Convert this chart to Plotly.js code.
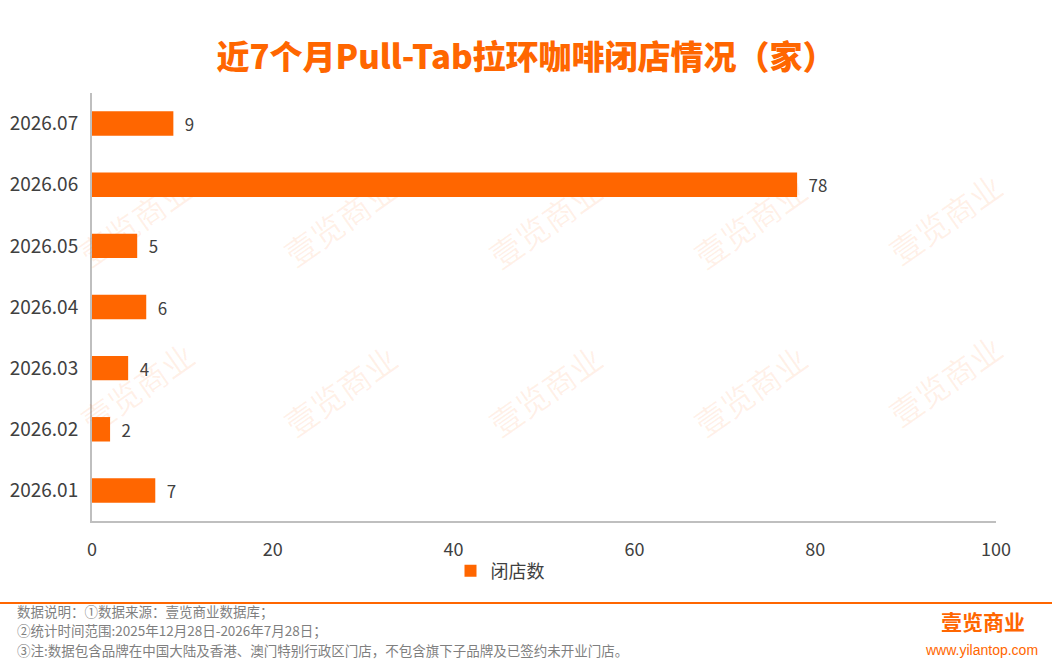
<!DOCTYPE html>
<html><head><meta charset="utf-8">
<script src="https://cdn.plot.ly/plotly-3.0.1.min.js"></script>
<style>html,body{margin:0;padding:0;background:#fff;}#chart{width:1052px;height:665px;}</style>
</head><body><div id="chart"></div>
<script>
const categories = ["2026.01","2026.02","2026.03","2026.04","2026.05","2026.06","2026.07"];
const closedStores = [7,2,4,6,5,78,9];
const seriesName = "闭店数";
const titleText = "近7个月Pull-Tab拉环咖啡闭店情况（家）";
const footnotes = ["数据说明：①数据来源：壹览商业数据库；","②统计时间范围:2025年12月28日-2026年7月28日；","③注:数据包含品牌在中国大陆及香港、澳门特别行政区门店，不包含旗下子品牌及已签约未开业门店。"];
const xTicks = [0,20,40,60,80,100];

const FONT = "'Noto Sans CJK SC','Noto Sans',sans-serif";
const ORANGE = "#FF6600";
const W = 904, H = 428, L = 92, B = 521;
const px = x => (x - L) / W;
const py = y => (B - y) / H;

const wmPx = [[135,220],[340,220],[545,222],[750,222],[945,218],[137,387],[340,390],[545,390],[750,390],[945,380]];
const annotations = [];
wmPx.forEach(p=>annotations.push({xref:'paper',yref:'paper',x:px(p[0]),y:py(p[1]),xanchor:'center',yanchor:'middle',text:'壹览商业',showarrow:false,textangle:-35,font:{family:FONT,size:32,color:'rgba(255,102,0,0.09)'}}));
footnotes.forEach((t,i)=>annotations.push({xref:'paper',yref:'paper',x:px(15),y:py(610.5+i*19.6),xanchor:'left',yanchor:'middle',align:'left',text:t,showarrow:false,font:{family:FONT,size:13.5,color:'#7f7f7f'}}));
annotations.push({xref:'paper',yref:'paper',x:px(983),y:py(621),xanchor:'center',yanchor:'middle',text:'<b>壹览商业</b>',showarrow:false,font:{family:FONT,size:21,color:ORANGE}});
annotations.push({xref:'paper',yref:'paper',x:px(981),y:py(650),xanchor:'center',yanchor:'middle',text:'www.yilantop.com',showarrow:false,font:{family:'Arial, Liberation Sans, sans-serif',size:14,color:ORANGE}});

const data = [{
  type:'bar', orientation:'h', y:categories, x:closedStores, name:seriesName,
  marker:{color:ORANGE}, texttemplate:'\u2002%{x}', textposition:'outside',
  textfont:{family:FONT,size:18,color:'#404040'}, cliponaxis:false, hoverinfo:'none'
}];
const layout = {
  width:1052, height:665,
  margin:{l:92,r:56,t:93,b:144},
  paper_bgcolor:'#fff', plot_bgcolor:'rgba(0,0,0,0)',
  title:{text:titleText, x:0.5, xanchor:'center', y:1-57/665, yanchor:'middle', font:{family:FONT,size:33,weight:900,color:ORANGE}},
  bargap:0.6,
  xaxis:{range:[0,100], tickvals:xTicks, ticktext:xTicks.map(String), showgrid:false, zeroline:false, showline:true, linecolor:'#bfbfbf', linewidth:2, ticks:'outside', ticklen:11, tickcolor:'rgba(0,0,0,0)', tickfont:{family:FONT,size:18,color:'#404040'}, fixedrange:true},
  yaxis:{type:'category', categoryorder:'array', categoryarray:categories, showgrid:false, zeroline:false, showline:true, linecolor:'#bfbfbf', linewidth:2, ticks:'outside', ticklen:8, tickcolor:'rgba(0,0,0,0)', tickfont:{family:FONT,size:19,color:'#404040'}, fixedrange:true},
  showlegend:true,
  legend:{orientation:'h', x:px(500), xanchor:'center', y:py(571), yanchor:'middle', bgcolor:'rgba(0,0,0,0)', font:{family:FONT,size:18,color:'#404040'}, itemwidth:30},
  annotations:annotations,
  shapes:[{type:'line',xref:'paper',yref:'paper',x0:px(0),x1:px(1052),y0:py(603),y1:py(603),line:{color:ORANGE,width:2}}]
};
Plotly.newPlot('chart',data,layout,{displayModeBar:false,staticPlot:true});
</script></body></html>
